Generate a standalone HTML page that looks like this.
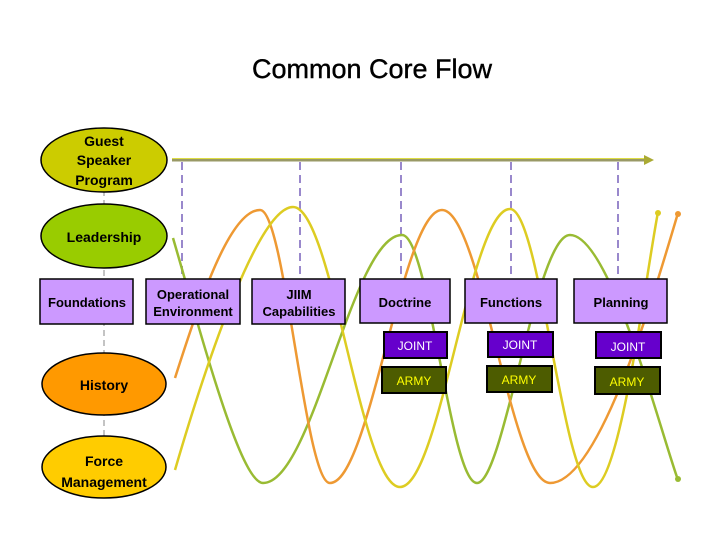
<!DOCTYPE html>
<html><head><style>
body{margin:0;background:#fff;}
svg{display:block;font-family:"Liberation Sans",sans-serif;font-weight:bold;}
</style></head><body>
<svg width="720" height="540" viewBox="0 0 720 540">
<text x="372" y="78" text-anchor="middle" font-size="27" font-weight="normal" fill="#000" stroke="#000" stroke-width="0.4">Common Core Flow</text>
<line x1="104" y1="130" x2="104" y2="500" stroke="#888" stroke-dasharray="6,4" stroke-width="1"/>
<g stroke="#9988cc" stroke-width="2" stroke-dasharray="8,5">
<line x1="182" y1="162" x2="182" y2="279"/><line x1="300" y1="162" x2="300" y2="279"/>
<line x1="401" y1="162" x2="401" y2="279"/><line x1="511" y1="162" x2="511" y2="279"/>
<line x1="618" y1="162" x2="618" y2="279"/>
</g>
<line x1="172" y1="160" x2="646" y2="160" stroke="#999966" stroke-width="3"/>
<line x1="172" y1="158.5" x2="646" y2="158.5" stroke="#dddd44" stroke-width="1"/>
<polygon points="644,155 654,160 644,165" fill="#aaaa33"/>
<g fill="none" stroke-width="2.5">
<path stroke="#99bb33" d="M173,238 C200,330 240,483 263,483 C313,483 352,235 402,235 C429,235 450,483 477,483 C504,483 536,235 570,235 C610,235 660,430 678,480"/>
<path stroke="#ee9933" d="M175,378 C200,300 230,210 260,210 C285,210 305,483 330,483 C370,483 402,210 442,210 C481,210 511,483 550,483 C600,483 655,290 678,213"/>
<path stroke="#ddcc22" d="M175,470 C210,350 260,207 293,207 C332,207 361,487 400,487 C440,487 470,209 510,209 C540,209 563,487 593,487 C620,487 645,280 658,212"/>
</g>
<circle cx="658" cy="213" r="3" fill="#ddcc22"/><circle cx="678" cy="214" r="3" fill="#ee9933"/><circle cx="678" cy="479" r="3" fill="#99bb33"/>
<g stroke="#000" stroke-width="1.5">
<ellipse cx="104" cy="160" rx="63" ry="32" fill="#cccc00"/>
<ellipse cx="104" cy="236" rx="63" ry="32" fill="#99cc00"/>
<ellipse cx="104" cy="384" rx="62" ry="31" fill="#ff9900"/>
<ellipse cx="104" cy="467" rx="62" ry="31" fill="#ffcc00"/>
</g>
<g font-size="14" text-anchor="middle" fill="#000">
<text x="104" y="146">Guest</text><text x="104" y="165">Speaker</text><text x="104" y="185">Program</text>
<text x="104" y="242">Leadership</text>
<text x="104" y="390">History</text>
<text x="104" y="466">Force</text><text x="104" y="487">Management</text>
</g>
<g fill="#cc99ff" stroke="#000" stroke-width="1.5">
<rect x="40" y="279" width="93" height="45"/><rect x="146" y="279" width="94" height="45"/>
<rect x="252" y="279" width="93" height="45"/><rect x="360" y="279" width="90" height="44"/>
<rect x="465" y="279" width="92" height="44"/><rect x="574" y="279" width="93" height="44"/>
</g>
<g font-size="13" text-anchor="middle" fill="#000">
<text x="87" y="307">Foundations</text>
<text x="193" y="299">Operational</text><text x="193" y="316">Environment</text>
<text x="299" y="299">JIIM</text><text x="299" y="316">Capabilities</text>
<text x="405" y="307">Doctrine</text><text x="511" y="307">Functions</text><text x="621" y="307">Planning</text>
</g>
<g stroke="#000" stroke-width="2">
<rect x="384" y="332" width="63" height="26" fill="#6600cc"/>
<rect x="488" y="332" width="65" height="25" fill="#6600cc"/>
<rect x="596" y="332" width="65" height="26" fill="#6600cc"/>
<rect x="382" y="367" width="64" height="26" fill="#4d5c00"/>
<rect x="487" y="366" width="65" height="26" fill="#4d5c00"/>
<rect x="595" y="367" width="65" height="27" fill="#4d5c00"/>
</g>
<g font-size="12" text-anchor="middle" font-weight="normal">
<text x="415" y="350" fill="#fff">JOINT</text><text x="520" y="349" fill="#fff">JOINT</text><text x="628" y="351" fill="#fff">JOINT</text>
<text x="414" y="385" fill="#ffff00">ARMY</text><text x="519" y="384" fill="#ffff00">ARMY</text><text x="627" y="386" fill="#ffff00">ARMY</text>
</g>
</svg>
</body></html>
